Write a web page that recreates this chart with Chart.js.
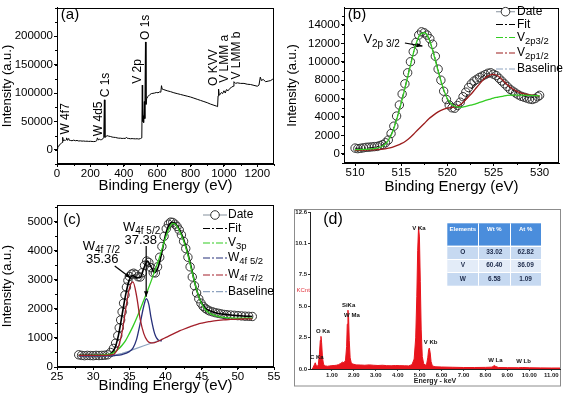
<!DOCTYPE html>
<html><head><meta charset="utf-8">
<script src="https://cdn.jsdelivr.net/npm/chart.js@4.4.1/dist/chart.umd.min.js"></script>
<style>
html,body{margin:0;padding:0;background:#fff;}
#wrap{position:relative;width:569px;height:406px;overflow:hidden;background:#fff}
canvas{position:absolute;display:block}
</style></head><body>
<div id="wrap">
<canvas id="ca" width="285" height="195" style="left:0;top:0"></canvas>
<canvas id="cb" width="284" height="195" style="left:285px;top:0"></canvas>
<canvas id="cc" width="285" height="211" style="left:0;top:195px"></canvas>
<canvas id="cd" width="284" height="211" style="left:285px;top:195px"></canvas>
</div>
<script>
// ---------------- (a) XPS survey ----------------
const surveyEnergy = [
0,5,10,15,20,25,30,33,35,37,
40,45,50,55,58,61,65,70,73,80,
90,100,110,120,130,140,150,160,170,180,
190,200,210,220,230,238,242,246,250,255,
260,268,275,280,284,287,292,300,310,320,
330,340,350,360,370,380,390,400,410,415,
420,430,440,450,460,470,480,490,500,508,
511,513,516,519,523,526,530,533,537,545,
555,565,575,585,595,605,615,622,626,630,
640,660,680,700,720,740,760,780,800,820,
840,860,880,900,920,940,955,962,965,968,
972,978,985,992,1000,1008,1015,1025,1035,1045,
1055,1060,1070,1080,1100,1120,1140,1160,1180,1200,
1210,1218,1225,1235,1250,1265,1280,1290,1300];
const surveyIntensity = [
2000,4000,6000,9000,10000,11000,13000,18000,22000,17000,
16000,17000,16500,18000,21000,17000,18000,20000,17000,16500,
16000,17000,16000,16500,15500,15800,15300,15500,15000,15200,
14800,15000,14700,14500,14800,16000,21000,18000,17500,19000,
17800,18000,19500,21000,88000,22000,23000,25000,24000,23500,
22500,22000,21800,21000,20500,20500,20000,20200,20000,22000,
20500,20000,19500,19800,19500,19300,19500,19000,19800,21000,
114000,50000,60000,48000,85000,55000,190000,80000,90000,94000,
97000,99000,99500,100000,101000,100500,102000,101500,113000,107000,
106000,104000,102500,100500,99000,97500,96000,94500,93000,91000,
89000,87000,85000,83000,80500,78500,77000,76000,95000,107000,
96000,98000,101000,99000,104000,100000,106000,104000,108000,110000,
112000,120000,117000,118000,117000,117000,115500,115000,113500,112000,
114000,128000,122000,124000,120000,121000,122000,124000,126000];
const surveyPeakNames = ['W 4f7','W 4d5','C 1s','V 2p','O 1s','O KVV','V LMM a','V LMM b'];
const surveyPeakLabelE = [51,249,291,481,532,936,1006,1076];
const surveyPeakLabelI = [26900,24000,92400,116400,193500,112500,118100,123800];
const surveyXTicks = [0,200,400,600,800,1000,1200];
const surveyXTickLabels = ['0','200','400','600','800','1000','1200'];
const surveyYTicks = [0,50000,100000,150000,200000];
const surveyYTickLabels = ['0','50000','100000','150000','200000'];

// ---------------- (b) V 2p ----------------
const v2pEnergy = [
510.0,510.3,510.6,510.9,511.2,511.5,511.8,512.1,512.4,512.7,
513.0,513.3,513.6,513.9,514.2,514.5,514.8,515.1,515.4,515.7,
516.0,516.3,516.6,516.9,517.2,517.5,517.8,518.1,518.4,518.7,
519.0,519.3,519.6,519.9,520.2,520.5,520.8,521.1,521.4,521.7,
522.0,522.3,522.6,522.9,523.2,523.5,523.8,524.1,524.4,524.7,
525.0,525.3,525.6,525.9,526.2,526.5,526.8,527.1,527.4,527.7,
528.0,528.3,528.6,528.9,529.2,529.5,529.8,530.0];
const v2pDate = [
620,560,600,650,700,720,750,780,800,900,
1000,1200,1500,2200,3000,4100,5300,6500,7600,8800,
10000,11100,12100,12900,13250,13150,12900,12500,11900,10600,
9200,8000,6800,5900,5300,5000,4950,5250,5600,6200,
6700,7200,7600,7900,8100,8300,8450,8600,8750,8800,
8650,8500,8200,7900,7600,7300,7000,6800,6600,6400,
6250,6150,6050,5950,5900,6000,6200,6350];
const v2pCurveEnergy = [510,511,512,513,513.5,514,514.5,515,515.5,516,516.5,517,517.5,518,518.5,519,519.5,520,520.5,521,521.5,522,522.5,523,523.5,524,524.5,525,525.5,526,526.5,527,528,529,530];
const v2pFit = [600,620,700,1000,1400,2300,3800,5600,7600,9700,11600,12900,13200,12500,11000,9100,7200,5900,5100,5000,5400,6100,6900,7600,8150,8550,8700,8600,8300,7900,7400,7000,6400,6100,6200];
const v2p32 = [450,480,550,850,1300,2200,3700,5500,7500,9600,11600,12900,13150,12500,10900,9000,7300,6000,5350,5100,5050,5150,5280,5400,5580,5750,5900,6050,6150,6250,6350,6380,6380,6350,6300];
const v2p12 = [380,400,430,500,580,700,880,1100,1400,1800,2300,2800,3300,3800,4200,4550,4800,4950,5050,5150,5400,5900,6400,7000,7600,8150,8500,8620,8450,8000,7500,7100,6600,6400,6300];
const v2pXTicks = [510,515,520,525,530];
const v2pXTickLabels = ['510','515','520','525','530'];
const v2pYTicks = [0,2000,4000,6000,8000,10000,12000,14000];
const v2pYTickLabels = ['0','2000','4000','6000','8000','10000','12000','14000'];

// ---------------- (c) W 4f / V 3p ----------------
const w4fEnergy = [
28.0,28.4,28.8,29.2,29.6,30.0,30.4,30.8,31.2,31.6,
32.0,32.4,32.8,33.1,33.4,33.6,33.8,34.0,34.2,34.4,
34.6,34.8,35.0,35.3,35.6,35.9,36.2,36.5,36.8,37.1,
37.4,37.7,38.0,38.3,38.6,38.9,39.2,39.5,39.8,40.1,
40.4,40.7,41.0,41.3,41.6,41.9,42.2,42.5,42.8,43.1,
43.4,43.7,44.0,44.3,44.6,44.9,45.2,45.5,45.8,46.1,
46.5,46.9,47.3,47.7,48.1,48.5,49.0,49.5,50.0,50.5,
51.0,51.5,52.0];
const w4fDate = [
420,400,390,400,395,390,400,395,400,405,
420,500,640,820,1080,1350,1620,1900,2200,2480,
2750,2980,3120,3200,3230,3190,3110,3100,3250,3500,
3650,3600,3420,3250,3240,3450,3780,4150,4500,4760,
4920,4990,4980,4920,4840,4720,4550,4330,4080,3780,
3450,3100,2800,2550,2350,2200,2090,2020,1970,1930,
1900,1870,1850,1830,1810,1800,1790,1780,1770,1760,
1750,1745,1740];
const w4fCurveEnergy = [28,29,30,31,32,32.5,33,33.5,34,34.5,35,35.5,36,36.5,37,37.5,38,38.5,39,39.5,40,40.5,41,41.5,42,42.5,43,43.5,44,44.5,45,45.5,46,47,48,49,50,51,52];
const w4fFit = [400,400,400,400,410,470,650,1100,1800,2500,3000,3150,3080,3080,3400,3650,3450,3250,3450,3950,4550,4900,4980,4900,4700,4400,4000,3500,2950,2500,2200,2030,1950,1860,1820,1790,1770,1750,1740];
const v3p = [400,400,405,410,430,450,520,620,750,920,1150,1400,1680,1980,2300,2620,2950,3300,3650,4050,4450,4780,4950,4880,4650,4350,3950,3450,2950,2500,2180,1980,1870,1760,1710,1690,1680,1680,1680];
const w4f72 = [400,400,400,400,405,420,470,700,1200,2000,2700,2930,2450,1650,1150,900,830,840,890,950,1010,1070,1130,1190,1250,1300,1350,1400,1440,1480,1510,1540,1560,1600,1620,1640,1650,1655,1660];
const w4f52Energy = [28,30,32,33,34,35,35.5,36,36.5,37,37.35,37.7,38,38.5,39,39.5];
const w4f52 = [380,380,385,395,430,530,650,950,1500,2100,2350,2150,1700,1150,930,900];
const w4fBaseEnergy = [28,30,32,33,34,35,36,37,38,39];
const w4fBaseline = [380,380,385,410,470,550,640,730,820,900];
const w4fXTicks = [25,30,35,40,45,50,55];
const w4fXTickLabels = ['25','30','35','40','45','50','55'];
const w4fYTicks = [0,1000,2000,3000,4000,5000];
const w4fYTickLabels = ['0','1000','2000','3000','4000','5000'];

// ---------------- (d) EDS ----------------
const edsEnergy = [
0.10,0.15,0.20,0.24,0.28,0.33,0.38,0.43,0.47,0.50,
0.53,0.57,0.62,0.70,0.80,0.90,1.00,1.10,1.20,1.30,
1.40,1.48,1.55,1.62,1.67,1.70,1.73,1.76,1.79,1.83,
1.88,1.95,2.10,2.30,2.50,2.70,2.90,3.10,3.30,3.50,
3.70,3.90,4.10,4.30,4.50,4.65,4.75,4.82,4.87,4.91,
4.95,4.99,5.03,5.07,5.12,5.18,5.25,5.32,5.37,5.41,
5.44,5.48,5.52,5.58,5.70,6.00,6.50,7.00,7.50,8.00,
8.30,8.38,8.42,8.47,8.60,9.00,9.50,9.70,10.00,10.50,
11.00,11.40];
const edsCounts = [
0.00,0.15,0.35,0.50,0.30,0.20,0.35,1.20,2.30,2.62,
2.10,0.90,0.35,0.25,0.22,0.25,0.27,0.28,0.30,0.35,
0.45,0.55,0.50,0.70,1.80,3.60,4.72,4.10,2.30,0.90,
0.50,0.40,0.33,0.32,0.30,0.33,0.30,0.28,0.30,0.27,
0.26,0.28,0.27,0.26,0.25,0.35,0.80,2.50,5.80,9.50,
11.40,10.60,7.00,3.20,1.00,0.45,0.30,0.40,0.90,1.55,
1.68,1.30,0.60,0.25,0.18,0.16,0.14,0.12,0.12,0.13,
0.15,0.25,0.28,0.20,0.12,0.11,0.10,0.12,0.10,0.09,
0.08,0.08];
const edsPeakNames = ['V Ka','SiKa','W Ma','O Ka','C Ka','V Kb','W La','W Lb'];
const edsPeakLabelE = [4.97,1.76,1.91,0.59,0.31,5.50,8.45,9.74];
const edsPeakLabelC = [11.27,5.14,4.28,3.06,0.96,2.13,0.69,0.61];
const edsXTicks = [1,2,3,4,5,6,7,8,9,10,11];
const edsXTickLabels = ['1.00','2.00','3.00','4.00','5.00','6.00','7.00','8.00','9.00','10.00','11.00'];
const edsYTicks = [0,2.52,5.04,7.56,10.08,12.6];
const edsYTickLabels = ['0.0','2.5','5.0','7.5','10.1','12.6'];
const tableHeader = ['Elements','Wt %','At %'];
const tableElements = ['O','V','W'];
const tableWt = ['33.02','60.40','6.58'];
const tableAt = ['62.82','36.09','1.09'];

// ---------------- helpers ----------------
const FF = '"Liberation Sans", Arial, Helvetica, sans-serif';
Chart.defaults.font.family = FF;
Chart.defaults.color = '#000';
const pts = (xs, ys) => xs.map((x, i) => ({x, y: ys[i]}));
const F = (s, b) => (b ? 'bold ' : '') + s + 'px ' + FF;
const rich = (main, sub, ms, ss) => [{t: main, f: F(ms)}, {t: sub, f: F(ss), dy: ms * 0.32}];
const DASHDOT = [7, 2, 2, 2];

function xAxis(o) {
  return {
    type: 'linear', position: 'bottom', min: o.min, max: o.max,
    afterBuildTicks: s => { s.ticks = o.ticks.map(v => ({value: v})); },
    afterFit: s => { s.height = o.h; },
    ticks: {autoSkip: false, maxRotation: 0, minRotation: 0, padding: o.pad, font: o.font, color: o.color || '#000',
      callback: v => o.labels[o.ticks.indexOf(v)]},
    grid: {display: true, drawOnChartArea: false, drawTicks: true, tickLength: o.tl, color: o.tc || '#000', tickWidth: 1},
    border: {display: true, color: o.bc || '#000', width: 1},
    title: {display: !!o.title, text: o.title, font: o.tfont, color: o.tcolor || '#000', padding: {top: 0, bottom: o.tpad}}
  };
}
function yAxis(o) {
  return {
    type: 'linear', position: 'left', min: o.min, max: o.max,
    afterBuildTicks: s => { s.ticks = o.ticks.map(v => ({value: v})); },
    afterFit: s => { s.width = o.w; },
    ticks: {autoSkip: false, padding: o.pad, font: o.font, color: o.color || '#000',
      callback: v => o.labels[o.ticks.indexOf(v)]},
    grid: {display: true, drawOnChartArea: false, drawTicks: true, tickLength: o.tl, color: o.tc || '#000', tickWidth: 1},
    border: {display: true, color: o.bc || '#000', width: 1},
    title: {display: !!o.title, text: o.title, font: o.tfont, color: '#000', padding: {top: o.tpad, bottom: 0}}
  };
}
function drawRich(ctx, x, y, parts, align, color) {
  let w = 0;
  for (const p of parts) { ctx.font = p.f; w += ctx.measureText(p.t).width; }
  let cx = align === 'center' ? x - w / 2 : align === 'right' ? x - w : x;
  ctx.fillStyle = color || '#000'; ctx.textBaseline = 'middle'; ctx.textAlign = 'left';
  for (const p of parts) { ctx.font = p.f; ctx.fillText(p.t, cx, y + (p.dy || 0)); cx += ctx.measureText(p.t).width; }
}
function arrow(ctx, x1, y1, x2, y2, head) {
  ctx.beginPath(); ctx.moveTo(x1, y1); ctx.lineTo(x2, y2); ctx.stroke();
  const a = Math.atan2(y2 - y1, x2 - x1);
  ctx.beginPath(); ctx.moveTo(x2, y2);
  ctx.lineTo(x2 - head * Math.cos(a - 0.38), y2 - head * Math.sin(a - 0.38));
  ctx.lineTo(x2 - head * Math.cos(a + 0.38), y2 - head * Math.sin(a + 0.38));
  ctx.closePath(); ctx.fill();
}

const overlay = {
  id: 'overlay',
  afterDatasetsDraw(chart, args, o) {
    const ctx = chart.ctx, a = chart.chartArea, xs = chart.scales.x, ys = chart.scales.y;
    ctx.save();
    ctx.strokeStyle = '#000'; ctx.fillStyle = '#000'; ctx.lineWidth = 1;
    if (o.frame) {
      ctx.strokeRect(Math.round(a.left) + 0.5, Math.round(a.top) + 0.5, Math.round(a.right - a.left) - 1, Math.round(a.bottom - a.top) - 1);
    }
    if (o.minorX) {
      for (let v = Math.ceil(xs.min / o.minorX) * o.minorX; v <= xs.max + 1e-9; v += o.minorX) {
        const px = Math.round(xs.getPixelForValue(v)) + 0.5;
        ctx.beginPath(); ctx.moveTo(px, a.bottom); ctx.lineTo(px, a.bottom + 2); ctx.stroke();
      }
    }
    if (o.minorY) {
      for (let v = Math.ceil(ys.min / o.minorY) * o.minorY; v <= ys.max + 1e-9; v += o.minorY) {
        const py = Math.round(ys.getPixelForValue(v)) + 0.5;
        ctx.beginPath(); ctx.moveTo(a.left, py); ctx.lineTo(a.left - 2, py); ctx.stroke();
      }
    }
    if (o.vlabels) {
      ctx.font = F(o.vlabels.size); ctx.textAlign = 'left'; ctx.textBaseline = 'middle';
      o.vlabels.names.forEach((t, i) => {
        ctx.save();
        ctx.translate(xs.getPixelForValue(o.vlabels.xv[i]), ys.getPixelForValue(o.vlabels.yv[i]));
        ctx.rotate(-Math.PI / 2); ctx.fillText(t, 0, 0); ctx.restore();
      });
    }
    (o.texts || []).forEach(t => drawRich(ctx, xs.getPixelForValue(t.x), ys.getPixelForValue(t.y), t.parts, t.align));
    ctx.strokeStyle = '#000'; ctx.fillStyle = '#000'; ctx.lineWidth = 1.2;
    (o.arrows || []).forEach(r => arrow(ctx, xs.getPixelForValue(r.x1), ys.getPixelForValue(r.y1), xs.getPixelForValue(r.x2), ys.getPixelForValue(r.y2), 6));
    if (o.legend) {
      const lg = o.legend;
      lg.items.forEach(it => {
        ctx.save();
        ctx.strokeStyle = it.color; ctx.lineWidth = 1.2; ctx.setLineDash(it.dash || []);
        ctx.beginPath(); ctx.moveTo(lg.x0, it.y); ctx.lineTo(lg.x1, it.y); ctx.stroke();
        ctx.setLineDash([]);
        if (it.circle) {
          ctx.beginPath(); ctx.arc((lg.x0 + lg.x1) / 2, it.y, 4.3, 0, 2 * Math.PI);
          ctx.fillStyle = '#fff'; ctx.fill(); ctx.strokeStyle = '#333'; ctx.lineWidth = 1; ctx.stroke();
        }
        ctx.restore();
        drawRich(ctx, lg.tx, it.y, it.parts, 'left');
      });
    }
    if (o.tag) {
      ctx.font = F(o.tag.size); ctx.fillStyle = '#000'; ctx.textAlign = 'center'; ctx.textBaseline = 'middle';
      ctx.fillText(o.tag.t, o.tag.x, o.tag.y);
    }
    ctx.restore();
  }
};

const common = {responsive: false, animation: false, events: []};
const noLegend = {legend: {display: false}, tooltip: {enabled: false}};
const TICKF = {size: 11.5};

// ---------------- chart (a) ----------------
new Chart(document.getElementById('ca'), {
  type: 'line',
  data: {datasets: [{data: pts(surveyEnergy, surveyIntensity), borderColor: '#000', borderWidth: 1, pointRadius: 0, tension: 0}]},
  options: Object.assign({}, common, {
    layout: {padding: {left: 0, top: 3, right: 11, bottom: 0}},
    scales: {
      x: xAxis({min: 0, max: 1300, ticks: surveyXTicks, labels: surveyXTickLabels, h: 31, tl: 3, pad: 0, font: TICKF, title: 'Binding Energy (eV)', tfont: {size: 15}, tpad: 0}),
      y: yAxis({min: -25000, max: 250000, ticks: surveyYTicks, labels: surveyYTickLabels, w: 57, tl: 3, pad: 1, font: TICKF, title: 'Intensity (a.u.)', tfont: {size: 13}, tpad: 0})
    },
    plugins: Object.assign({}, noLegend, {overlay: {
      frame: true, minorX: 100, minorY: 25000, tag: {t: '(a)', x: 70, y: 15, size: 15},
      vlabels: {names: surveyPeakNames, xv: surveyPeakLabelE, yv: surveyPeakLabelI, size: 12}
    }})
  }),
  plugins: [overlay]
});

// ---------------- chart (b) ----------------
new Chart(document.getElementById('cb'), {
  type: 'line',
  data: {datasets: [
    {data: pts(v2pCurveEnergy, v2p32), borderColor: '#33cc22', borderWidth: 1.3, pointRadius: 0, cubicInterpolationMode: 'monotone'},
    {data: pts(v2pCurveEnergy, v2p12), borderColor: '#9b1c1c', borderWidth: 1.3, pointRadius: 0, cubicInterpolationMode: 'monotone'},
    {data: pts(v2pCurveEnergy, v2pFit), borderColor: '#111', borderWidth: 1, borderDash: DASHDOT, pointRadius: 0, cubicInterpolationMode: 'monotone'},
    {data: pts(v2pEnergy, v2pDate), showLine: false, pointRadius: 4.2, pointBorderWidth: 1, pointBorderColor: '#333', pointBackgroundColor: 'rgba(255,255,255,0)'}
  ]},
  options: Object.assign({}, common, {
    layout: {padding: {left: 0, top: 3, right: 10, bottom: 0}},
    scales: {
      x: xAxis({min: 508.8, max: 532.1, ticks: v2pXTicks, labels: v2pXTickLabels, h: 32, tl: 3, pad: 0, font: TICKF, title: 'Binding Energy (eV)', tfont: {size: 15}, tpad: -1}),
      y: yAxis({min: -1000, max: 15850, ticks: v2pYTicks, labels: v2pYTickLabels, w: 59, tl: 3, pad: 1, font: TICKF, title: 'Intensity (a.u.)', tfont: {size: 13}, tpad: 0})
    },
    plugins: Object.assign({}, noLegend, {overlay: {
      frame: true, minorX: 2.5, minorY: 1000, tag: {t: '(b)', x: 72, y: 15, size: 15},
      texts: [{x: 510.9, y: 12390, parts: rich('V', '2p 3/2', 13, 10), align: 'left'}],
      arrows: [{x1: 515.4, y1: 12040, x2: 517.3, y2: 11700}],
      legend: {x0: 211, x1: 230, tx: 232, items: [
        {y: 11.7, color: '#9aa3ad', circle: true, parts: [{t: 'Date', f: F(12)}]},
        {y: 24.5, color: '#000', dash: DASHDOT, parts: [{t: 'Fit', f: F(12)}]},
        {y: 37.5, color: '#33cc22', dash: DASHDOT, parts: rich('V', '2p3/2', 12, 9.5)},
        {y: 53, color: '#9b1c1c', dash: DASHDOT, parts: rich('V', '2p1/2', 12, 9.5)},
        {y: 69, color: '#8ea3bf', dash: DASHDOT, parts: [{t: 'Baseline', f: F(12)}]}
      ]}
    }})
  }),
  plugins: [overlay]
});

// ---------------- chart (c) ----------------
new Chart(document.getElementById('cc'), {
  type: 'line',
  data: {datasets: [
    {data: pts(w4fCurveEnergy, w4f72), borderColor: '#a31f2a', borderWidth: 1.3, pointRadius: 0, cubicInterpolationMode: 'monotone'},
    {data: pts(w4f52Energy, w4f52), borderColor: '#27307a', borderWidth: 1.3, pointRadius: 0, cubicInterpolationMode: 'monotone'},
    {data: pts(w4fCurveEnergy, v3p), borderColor: '#33cc22', borderWidth: 1.3, pointRadius: 0, cubicInterpolationMode: 'monotone'},
    {data: pts(w4fCurveEnergy, w4fFit), borderColor: '#000', borderWidth: 1.6, pointRadius: 0, cubicInterpolationMode: 'monotone'},
    {data: pts(w4fBaseEnergy, w4fBaseline), borderColor: '#8ea3bf', borderWidth: 1.2, pointRadius: 0, tension: 0},
    {data: pts(w4fEnergy, w4fDate), showLine: false, pointRadius: 4.2, pointBorderWidth: 1, pointBorderColor: '#333', pointBackgroundColor: 'rgba(255,255,255,0)'}
  ]},
  options: Object.assign({}, common, {
    layout: {padding: {left: 0, top: 10, right: 11, bottom: 0}},
    scales: {
      x: xAxis({min: 25, max: 55, ticks: w4fXTicks, labels: w4fXTickLabels, h: 39, tl: 3, pad: 0, font: TICKF, title: 'Binding Energy (eV)', tfont: {size: 15}, tpad: 11}),
      y: yAxis({min: 0, max: 5580, ticks: w4fYTicks, labels: w4fYTickLabels, w: 57, tl: 3, pad: 1, font: TICKF, title: 'Intensity (a.u.)', tfont: {size: 13}, tpad: 0})
    },
    plugins: Object.assign({}, noLegend, {overlay: {
      frame: true, minorX: 2.5, minorY: 500, tag: {t: '(c)', x: 72, y: 25, size: 15},
      texts: [
        {x: 28.55, y: 4168, parts: rich('W', '4f 7/2', 13, 10), align: 'left'},
        {x: 31.25, y: 3722, parts: [{t: '35.36', f: F(13)}], align: 'center'},
        {x: 34.12, y: 4821, parts: rich('W', '4f 5/2', 13, 10), align: 'left'},
        {x: 36.57, y: 4375, parts: [{t: '37.38', f: F(13)}], align: 'center'}
      ],
      arrows: [{x1: 32.98, y1: 3481, x2: 35.19, y2: 3069}, {x1: 37.33, y1: 4168, x2: 37.33, y2: 2416}],
      legend: {x0: 203, x1: 227, tx: 228, items: [
        {y: 20, color: '#9aa3ad', circle: true, parts: [{t: 'Date', f: F(12)}]},
        {y: 33.5, color: '#000', dash: DASHDOT, parts: [{t: 'Fit', f: F(12)}]},
        {y: 48, color: '#33cc22', dash: DASHDOT, parts: rich('V', '3p', 12, 9.5)},
        {y: 63, color: '#27307a', dash: DASHDOT, parts: rich('W', '4f 5/2', 12, 9.5)},
        {y: 80, color: '#a31f2a', dash: DASHDOT, parts: rich('W', '4f 7/2', 12, 9.5)},
        {y: 96.7, color: '#8ea3bf', dash: DASHDOT, parts: [{t: 'Baseline', f: F(12)}]}
      ]}
    }})
  }),
  plugins: [overlay]
});

// ---------------- chart (d) ----------------
const edsPlugin = {
  id: 'eds',
  beforeDraw(chart) {
    const ctx = chart.ctx; ctx.save();
    ctx.fillStyle = '#fff'; ctx.fillRect(0, 0, chart.width, chart.height);
    ctx.strokeStyle = '#8c8c8c'; ctx.lineWidth = 1; ctx.strokeRect(9.5, 14.5, 266, 176.5);
    ctx.restore();
  },
  afterDatasetsDraw(chart) {
    const ctx = chart.ctx, xs = chart.scales.x, ys = chart.scales.y;
    ctx.save();
    ctx.fillStyle = '#111'; ctx.font = F(6, true); ctx.textAlign = 'center'; ctx.textBaseline = 'middle';
    edsPeakNames.forEach((t, i) => ctx.fillText(t, xs.getPixelForValue(edsPeakLabelE[i]), ys.getPixelForValue(edsPeakLabelC[i])));
    ctx.fillStyle = '#e0303a'; ctx.font = F(6); ctx.textAlign = 'left';
    ctx.fillText('KCnt', 11.5, 95);
    ctx.fillStyle = '#000'; ctx.font = F(16); ctx.textAlign = 'center';
    ctx.fillText('(d)', 48, 25);
    const cols = [162.3, 193.3, 225.3, 256], rows = [28.3, 50.7, 64, 77.3, 90.7];
    const rowFill = ['#4a8ddc', '#c6d9f1', '#e3ecf8', '#c6d9f1'];
    for (let r = 0; r < 4; r++) {
      ctx.fillStyle = rowFill[r];
      ctx.fillRect(cols[0], rows[r], cols[3] - cols[0], rows[r + 1] - rows[r]);
    }
    ctx.strokeStyle = '#ffffff'; ctx.lineWidth = 1;
    for (let c = 1; c < 3; c++) { ctx.beginPath(); ctx.moveTo(Math.round(cols[c]) + 0.5, rows[0]); ctx.lineTo(Math.round(cols[c]) + 0.5, rows[4]); ctx.stroke(); }
    for (let r = 1; r < 4; r++) { ctx.beginPath(); ctx.moveTo(cols[0], Math.round(rows[r]) + 0.5); ctx.lineTo(cols[3], Math.round(rows[r]) + 0.5); ctx.stroke(); }
    ctx.font = F(6, true); ctx.textAlign = 'center'; ctx.textBaseline = 'middle';
    ctx.fillStyle = '#ffffff';
    tableHeader.forEach((t, c) => ctx.fillText(t, (cols[c] + cols[c + 1]) / 2, 34.5));
    ctx.fillStyle = '#1d2a4a'; ctx.font = F(6.5, true);
    for (let r = 0; r < 3; r++) {
      const yc = (rows[r + 1] + rows[r + 2]) / 2;
      ctx.fillText(tableElements[r], (cols[0] + cols[1]) / 2, yc);
      ctx.fillText(tableWt[r], (cols[1] + cols[2]) / 2, yc);
      ctx.fillText(tableAt[r], (cols[2] + cols[3]) / 2, yc);
    }
    ctx.restore();
  }
};
new Chart(document.getElementById('cd'), {
  type: 'line',
  data: {datasets: [{data: pts(edsEnergy, edsCounts), borderColor: '#e8141c', backgroundColor: '#e8141c', fill: 'origin', borderWidth: 1, pointRadius: 0, tension: 0}]},
  options: Object.assign({}, common, {
    layout: {padding: {left: 0, top: 17, right: 9, bottom: 0}},
    scales: {
      x: xAxis({min: 0, max: 11.4, ticks: edsXTicks, labels: edsXTickLabels, h: 37, tl: 2, pad: 1, font: {size: 6, weight: 'bold'}, color: '#222', tc: '#333', bc: '#222', title: 'Energy - keV', tfont: {size: 7, weight: 'bold'}, tcolor: '#222', tpad: 21}),
      y: yAxis({min: 0, max: 12.6, ticks: edsYTicks, labels: edsYTickLabels, w: 25, tl: 2, pad: 1, font: {size: 6, weight: 'bold'}, color: '#222', tc: '#333', bc: '#222'})
    },
    plugins: Object.assign({}, noLegend)
  }),
  plugins: [edsPlugin]
});
</script>
</body></html>
